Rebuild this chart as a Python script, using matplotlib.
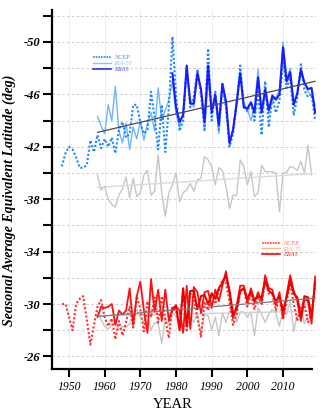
import matplotlib
matplotlib.use('Agg')
from matplotlib import pyplot as plt
from matplotlib.lines import Line2D
import numpy as np

plt.rcParams['font.family'] = ['Liberation Serif', 'DejaVu Serif']
plt.rcParams['axes.unicode_minus'] = False

# years covered by each series
years_ncep = np.arange(1948, 2020)
years_jra = np.arange(1958, 2020)
years_era = np.arange(1979, 2020)
years_gray = np.arange(1958, 2019)

# upper group (blue)
ncep_upper = [-40.5, -41.5, -42.0, -41.8, -41.2, -40.4, -40.4, -40.6, -42.5, -41.6,
              -42.9, -41.9, -42.6, -42.0, -42.7, -41.5, -43.3, -43.9, -42.7, -43.0,
              -45.2, -45.2, -43.8, -43.0, -43.3, -46.2, -44.2, -41.8, -45.2, -41.6,
              -45.0, -50.4, -46.0, -43.2, -44.0, -48.0, -45.0, -45.8, -47.9, -46.0,
              -43.3, -49.5, -44.0, -46.2, -43.3, -46.8, -45.0, -42.0, -43.0, -45.4,
              -48.2, -45.2, -44.7, -45.4, -44.0, -46.2, -42.9, -47.0, -43.5, -45.8,
              -44.6, -45.5, -48.6, -46.5, -47.3, -44.4, -45.8, -48.3, -46.3, -45.8,
              -46.0, -44.0]
jra_upper = [-44.3, -43.6, -43.0, -45.2, -44.0, -46.6, -43.2, -42.3, -43.8, -41.8,
             -43.5, -42.6, -44.0, -42.5, -43.8, -44.6, -43.2, -46.5, -44.0, -44.8,
             -45.6, -47.0, -44.5, -43.5, -44.8, -47.6, -45.6, -45.0, -47.9, -46.3,
             -43.2, -47.0, -44.8, -45.8, -43.0, -46.3, -45.3, -42.0, -43.5, -45.6,
             -47.9, -45.3, -44.9, -44.0, -45.0, -47.9, -44.9, -46.0, -44.5, -45.5,
             -45.8, -46.3, -50.0, -47.2, -48.0, -45.4, -46.0, -47.6, -46.8, -46.2,
             -45.9, -45.2]
era_upper = [-47.6, -45.0, -43.9, -44.4, -48.2, -45.3, -45.3, -47.6, -46.4,
             -43.9, -48.2, -44.6, -46.0, -43.7, -46.8, -45.5, -42.3, -43.3, -45.3,
             -47.6, -45.0, -44.9, -45.4, -44.6, -47.3, -44.6, -46.4, -44.8, -45.9,
             -45.6, -46.0, -49.6, -47.0, -47.7, -45.2, -46.1, -47.9, -46.9, -46.4,
             -46.5, -44.6]
gray_upper = [-39.85, -38.7, -39.0, -38.0, -37.6, -37.4, -38.3, -38.8, -39.7, -38.1,
              -39.6, -38.2, -38.5, -39.85, -40.2, -38.3, -38.6, -41.4, -38.5, -36.7,
              -38.5, -39.1, -40.0, -37.8, -38.5, -38.7, -39.2, -38.6, -39.5, -39.6,
              -41.25, -41.0, -40.5, -39.1, -40.4, -40.2, -39.0, -37.3, -38.3, -38.3,
              -41.0, -40.5, -39.1, -40.1, -38.2, -38.5, -40.6, -40.1, -40.1, -40.1,
              -40.0, -37.05, -40.0, -40.05, -40.5, -40.4, -40.2, -40.9, -40.0, -42.1,
              -39.85]

# lower group (red)
ncep_lower = [-30.0, -30.0, -29.0, -28.0, -30.0, -30.4, -30.6, -28.8, -26.9, -28.4,
              -29.8, -30.3, -29.0, -28.3, -28.9, -27.3, -28.7, -27.6, -28.6, -29.8,
              -28.2, -30.6, -29.6, -27.9, -30.2, -29.0, -30.5, -28.6, -30.6, -28.8,
              -27.4, -29.8, -29.5, -28.2, -31.0, -28.0, -30.8, -30.5, -28.9, -27.5,
              -30.2, -29.5, -30.8, -30.0, -31.0, -31.9, -31.6, -30.2, -28.4, -29.2,
              -31.0, -31.2, -29.8, -30.8, -29.6, -30.5, -30.0, -31.8, -30.8, -30.7,
              -29.5, -30.5, -28.8, -30.2, -31.6, -30.0, -28.7, -29.8, -30.0, -28.6,
              -29.2, -31.4]
jra_lower = [-29.0, -29.8, -29.7, -29.8, -30.0, -28.4, -29.5, -29.2, -29.5, -31.2,
             -28.4, -30.6, -31.7, -29.5, -27.8, -31.9, -29.4, -31.1, -28.7, -31.1,
             -28.7, -29.7, -29.8, -29.5, -27.8, -31.4, -28.1, -31.3, -30.9, -29.3,
             -30.9, -31.0, -29.7, -31.1, -30.2, -31.4, -32.5, -30.8, -28.9, -29.9,
             -31.4, -31.4, -30.1, -31.2, -30.1, -30.9, -30.2, -32.2, -31.2, -31.1,
             -29.9, -30.9, -29.0, -30.7, -32.2, -31.0, -30.2, -28.7, -30.4, -30.2,
             -28.5, -32.1]
era_lower = [-29.5, -29.9, -28.0, -31.2, -28.3, -31.0, -31.0, -29.6, -30.6,
             -30.7, -30.0, -30.8, -30.4, -31.2, -31.6, -32.2, -31.0, -29.2, -29.6,
             -31.0, -31.2, -30.4, -31.0, -30.3, -30.6, -30.5, -31.8, -31.0, -30.8,
             -30.2, -30.6, -29.5, -30.5, -31.8, -30.8, -30.5, -29.0, -30.6, -30.5,
             -29.0, -31.7]
gray_lower = [-29.4, -28.8, -28.3, -28.1, -28.4, -28.7, -28.0, -28.3, -28.2, -28.5,
              -29.1, -29.6, -29.0, -28.6, -29.3, -28.0, -28.6, -28.5, -27.0, -29.0,
              -28.3, -29.4, -29.0, -29.5, -28.4, -27.9, -29.0, -28.6, -29.3, -27.7,
              -29.2, -29.1, -28.0, -29.0, -27.6, -29.3, -28.6, -29.5, -29.8, -28.6,
              -29.4, -29.4, -29.0, -29.4, -27.6, -29.7, -29.2, -28.6, -29.2, -29.6,
              -29.3, -28.3, -29.6, -29.2, -30.2, -27.9, -29.2, -29.7, -28.5, -29.2,
              -28.8]

# trend line end points
trend_years = [1958, 2019]
trend_upper = [-43.1, -47.0]
trend_lower = [-29.05, -30.45]
trend_gray_years = [1958, 2018]
trend_gray_upper = [-38.9, -39.95]
trend_gray_lower = [-29.1, -29.45]

y_ticks = np.arange(-52, -25, 2)
y_labels = ['' if v % 4 == 0 else str(v) for v in y_ticks]
x_ticks = [1950, 1960, 1970, 1980, 1990, 2000, 2010]

fig = plt.figure(figsize=(3.2, 4.13), dpi=100)
ax = fig.add_axes([52 / 320, 1 - 369 / 413, (315.5 - 52) / 320, 359 / 413])

# upper group
ax.plot(years_gray, gray_upper, color='#c6c6c6', lw=1.0)
ax.plot(trend_gray_years, trend_gray_upper, color='#dadada', lw=1.0)
ax.plot(years_jra, jra_upper, color='#6cb6ff', lw=1.0)
ax.plot(years_ncep, ncep_upper, color='#1e88ff', lw=1.5, linestyle=(0, (1, 1)))
ax.plot(years_era, era_upper, color='#1a1aff', lw=1.5)
ax.plot(trend_years, trend_upper, color='#4a4a4a', lw=0.9)

# lower group
ax.plot(years_gray, gray_lower, color='#c6c6c6', lw=1.0)
ax.plot(trend_gray_years, trend_gray_lower, color='#d0d0d0', lw=1.0)
ax.plot(years_ncep, ncep_lower, color='#ff3030', lw=1.5, linestyle=(0, (1, 1)))
ax.plot(years_jra, jra_lower, color='#ff1010', lw=1.3)
ax.plot(years_era, era_lower, color='#ee0000', lw=1.5)
ax.plot(trend_years, trend_lower, color='#7a7a7a', lw=0.9)

ax.set_xlim(1945.24, 2019.1)
ax.set_ylim(-25.04, -52.44)

ax.set_yticks(y_ticks)
ax.set_yticklabels(y_labels, fontsize=9, fontweight='bold', fontstyle='italic')
ax.set_xticks(x_ticks)
ax.set_xticklabels([str(x) for x in x_ticks], fontsize=8.5, fontstyle='italic')
ax.tick_params(axis='y', direction='out', length=6.5, width=1.5, pad=2)
ax.tick_params(axis='x', direction='out', length=6, width=1.5, pad=3)

ax.grid(axis='y', color='#cccccc', linestyle=(0, (2.5, 2.5)), lw=0.7)
ax.grid(axis='x', color='#ededed', linestyle='-', lw=0.7)
ax.set_axisbelow(True)

for side in ['top', 'right']:
    ax.spines[side].set_visible(False)
for side in ['left', 'bottom']:
    ax.spines[side].set_linewidth(1.6)
ax.spines['bottom'].set_bounds(1945.24, 2018.1)

fig.text(9 / 320, 1 - 200 / 413, 'Seasonal Average Equivalent Latitude (deg)',
         rotation=90, ha='center', va='center', fontsize=10,
         fontweight='bold', fontstyle='italic')
fig.text(173 / 320, 1 - 404 / 413, 'YEAR', ha='center', va='center', fontsize=10.5)

upper_handles = [
    Line2D([], [], color='#1e88ff', lw=1.2, linestyle=(0, (1, 0.6))),
    Line2D([], [], color='#8cc4ff', lw=1.0),
    Line2D([], [], color='#2a2aff', lw=1.2),
]
lower_handles = [
    Line2D([], [], color='#ff3030', lw=1.2, linestyle=(0, (1, 0.6))),
    Line2D([], [], color='#ffb88a', lw=1.0),
    Line2D([], [], color='#ff0000', lw=1.2),
]
labels = ['NCEP', 'JRA-55', 'ERA5']

leg1 = fig.legend(upper_handles, labels, loc='upper left',
                  bbox_to_anchor=(93 / 320, 1 - 55 / 413), frameon=False,
                  prop={'size': 4.5, 'style': 'italic'}, handlelength=2.9,
                  handletextpad=0.5, labelspacing=0.05, borderpad=0, borderaxespad=0)
for text, color in zip(leg1.get_texts(), ['#3a8cff', '#8cc4ff', '#4a4aff']):
    text.set_color(color)

leg2 = fig.legend(lower_handles, labels, loc='upper left',
                  bbox_to_anchor=(262 / 320, 1 - 240.5 / 413), frameon=False,
                  prop={'size': 4.5, 'style': 'italic'}, handlelength=2.9,
                  handletextpad=0.5, labelspacing=0.05, borderpad=0, borderaxespad=0)
for text, color in zip(leg2.get_texts(), ['#ff6a6a', '#ffb07a', '#ff2020']):
    text.set_color(color)

fig.savefig('out.png', dpi=100)
